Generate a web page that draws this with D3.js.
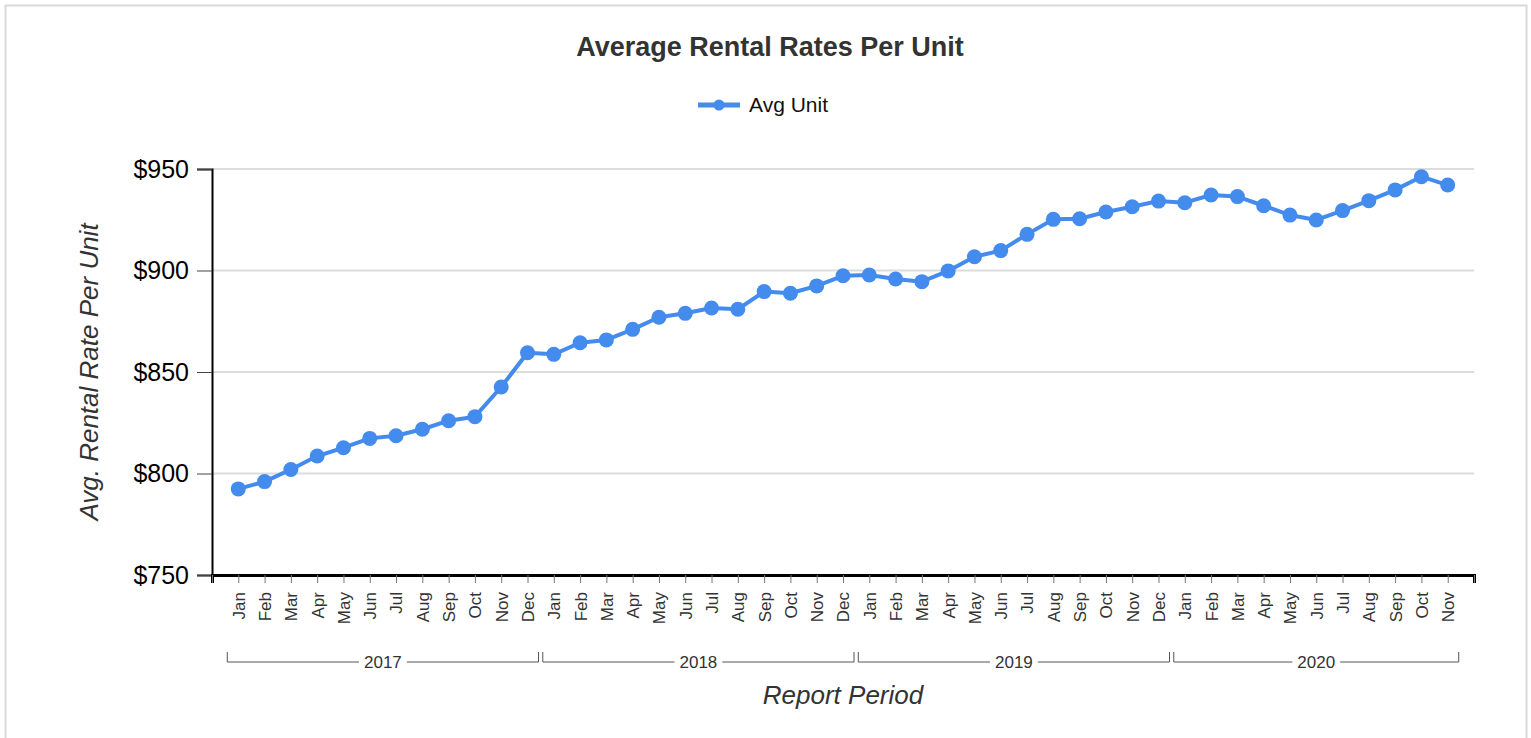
<!DOCTYPE html>
<html>
<head>
<meta charset="utf-8">
<script src="https://cdn.jsdelivr.net/npm/d3@7/dist/d3.min.js"></script>
<style>
  body { margin: 0; background: #fff; font-family: Arial, 'Liberation Sans', sans-serif; }
</style>
</head>
<body>
<svg id="chart" width="1531" height="738"></svg>
<script>
// months shown on the x axis, Jan 2017 .. Nov 2020
const monthNames = ['Jan','Feb','Mar','Apr','May','Jun','Jul','Aug','Sep','Oct','Nov','Dec'];
const years = [2017, 2018, 2019, 2020];
const monthsPerYear = [12, 12, 12, 11];
const avgUnit = [
  792.4, 796, 802, 808.6, 812.7, 817.3, 818.6, 821.8, 826, 828, 842.6, 859.5,
  858.7, 864.4, 865.8, 871, 877, 878.9, 881.5, 880.9, 889.6, 888.8, 892.4, 897.4,
  897.8, 895.8, 894.5, 899.8, 906.8, 909.8, 917.8, 925.2, 925.5, 928.8, 931.4, 934.2,
  933.4, 937.2, 936.4, 931.9, 927.3, 924.9, 929.5, 934.4, 939.7, 946.2, 942.1
];
const yTicks = [750, 800, 850, 900, 950];

const labels = [];
years.forEach((y, i) => {
  for (let m = 0; m < monthsPerYear[i]; m++) labels.push(monthNames[m]);
});

const svg = d3.select('#chart');
const blue = '#448bee';
const font = "Arial, 'Liberation Sans', sans-serif";
const plotLeft = 212, plotRight = 1474, plotTop = 169, plotBottom = 575;

// outer border
svg.append('rect')
  .attr('x', 5.5).attr('y', 5.5)
  .attr('width', 1521).attr('height', 760)
  .attr('fill', 'none').attr('stroke', '#d9d9d9').attr('stroke-width', 2);

const x = d3.scaleLinear().domain([-1, avgUnit.length]).range([plotLeft, plotRight]);
const y = d3.scaleLinear().domain([750, 950]).range([plotBottom, plotTop]);

// gridlines
svg.append('g')
  .selectAll('line')
  .data(yTicks.slice(1))
  .join('line')
  .attr('x1', plotLeft).attr('x2', plotRight)
  .attr('y1', d => y(d)).attr('y2', d => y(d))
  .attr('stroke', '#dcdcdc').attr('stroke-width', 2);

// y axis
const yAxis = svg.append('g')
  .attr('transform', `translate(${plotLeft},0)`)
  .call(d3.axisLeft(y).tickValues(yTicks).tickSize(15).tickPadding(8).tickFormat(d => '$' + d));
yAxis.select('.domain').attr('stroke', '#000').attr('stroke-width', 2);
yAxis.selectAll('.tick line').attr('stroke', '#444');
yAxis.selectAll('.tick text')
  .attr('font-size', 25).attr('fill', '#000')
  .attr('font-family', font);

// x axis
const xAxis = svg.append('g')
  .attr('transform', `translate(0,${plotBottom})`)
  .call(d3.axisBottom(x)
    .tickValues(d3.range(-1, avgUnit.length + 1))
    .tickSize(8)
    .tickFormat(i => labels[i] || ''));
xAxis.select('.domain').attr('stroke', '#000').attr('stroke-width', 3);
xAxis.selectAll('.tick line').attr('stroke', '#777');
xAxis.selectAll('.tick text')
  .attr('font-size', 17).attr('fill', '#333')
  .attr('font-family', font)
  .attr('text-anchor', 'end')
  .attr('transform', 'rotate(-90)')
  .attr('x', -17).attr('y', 0).attr('dy', '0.35em');

// year brackets
let start = 0;
const bracketY = 662;
years.forEach((yr, i) => {
  const end = start + monthsPerYear[i] - 1;
  const x0 = x(start) - 11, x1 = x(end) + 11;
  const g = svg.append('g');
  g.append('path')
    .attr('d', `M${x0},${bracketY - 10}V${bracketY}H${x1}V${bracketY - 10}`)
    .attr('fill', 'none').attr('stroke', '#555').attr('stroke-width', 1);
  const t = g.append('text')
    .attr('x', (x0 + x1) / 2).attr('y', bracketY + 6)
    .attr('text-anchor', 'middle')
    .attr('font-size', 17).attr('fill', '#333')
    .text(yr);
  const bb = t.node().getBBox();
  g.insert('rect', 'text')
    .attr('x', bb.x - 5).attr('y', bracketY - 2)
    .attr('width', bb.width + 10).attr('height', 4)
    .attr('fill', '#fff');
  start = end + 1;
});

// line + points
const line = d3.line()
  .x((d, i) => x(i))
  .y(d => y(d));

svg.append('path')
  .attr('d', line(avgUnit))
  .attr('fill', 'none')
  .attr('stroke', blue)
  .attr('stroke-width', 4)
  .attr('stroke-linejoin', 'round');

svg.append('g')
  .selectAll('circle')
  .data(avgUnit)
  .join('circle')
  .attr('cx', (d, i) => x(i))
  .attr('cy', d => y(d))
  .attr('r', 7.5)
  .attr('fill', blue);

// title
svg.append('text')
  .attr('x', 770).attr('y', 56)
  .attr('text-anchor', 'middle')
  .attr('font-size', 27).attr('font-weight', 'bold').attr('fill', '#333')
  .text('Average Rental Rates Per Unit');

// legend
svg.append('line')
  .attr('x1', 698).attr('x2', 740).attr('y1', 105).attr('y2', 105)
  .attr('stroke', blue).attr('stroke-width', 5);
svg.append('circle')
  .attr('cx', 719).attr('cy', 105).attr('r', 5.5).attr('fill', blue);
svg.append('text')
  .attr('x', 749).attr('y', 112)
  .attr('font-size', 21).attr('fill', '#111')
  .text('Avg Unit');

// axis titles
svg.append('text')
  .attr('transform', `translate(98,${(plotTop + plotBottom) / 2}) rotate(-90)`)
  .attr('text-anchor', 'middle')
  .attr('font-size', 26).attr('font-style', 'italic').attr('fill', '#333')
  .text('Avg. Rental Rate Per Unit');

svg.append('text')
  .attr('x', (plotLeft + plotRight) / 2).attr('y', 704)
  .attr('text-anchor', 'middle')
  .attr('font-size', 26).attr('font-style', 'italic').attr('fill', '#333')
  .text('Report Period');
</script>
</body>
</html>
